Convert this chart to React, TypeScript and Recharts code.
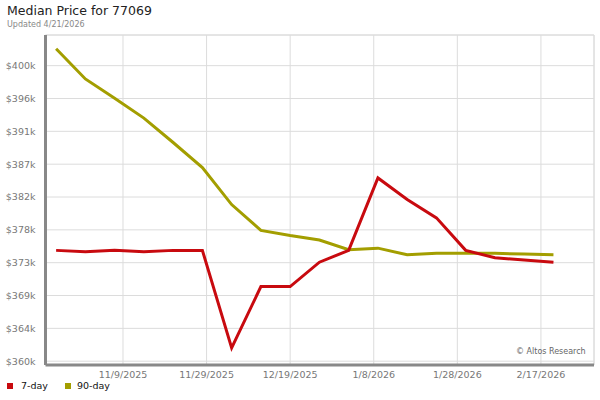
import { LineChart, Line, XAxis, YAxis, CartesianGrid, ReferenceLine } from 'recharts';

const pointDates = [
  '2025-10-24', '2025-10-31', '2025-11-07', '2025-11-14', '2025-11-21', '2025-11-28',
  '2025-12-05', '2025-12-12', '2025-12-19', '2025-12-26', '2026-01-02', '2026-01-09',
  '2026-01-16', '2026-01-23', '2026-01-30', '2026-02-06', '2026-02-13', '2026-02-20',
];

const sevenDay = [
  375000, 374800, 375000, 374800, 375000, 375000,
  361800, 370100, 370100, 373400, 375000, 384800,
  381900, 379400, 375000, 374000, 373700, 373400,
];

const ninetyDay = [
  402300, 398200, 395600, 392900, 389600, 386200,
  381200, 377700, 377000, 376400, 375100, 375300,
  374400, 374600, 374600, 374600, 374500, 374400,
];

const tickDates = ['2025-11-09', '2025-11-29', '2025-12-19', '2026-01-08', '2026-01-28', '2026-02-17'];
const tickLabels = ['11/9/2025', '11/29/2025', '12/19/2025', '1/8/2026', '1/28/2026', '2/17/2026'];

const yTicks = [360000, 364444, 368889, 373333, 377778, 382222, 386667, 391111, 395556, 400000];

const RED = '#c80a0f';
const OLIVE = '#a39e00';
const FONT = '"DejaVu Sans", Verdana, sans-serif';

// days since the first weekly point
const toDay = (s: string) => {
  const [y, m, d] = s.split('-').map(Number);
  return (Date.UTC(y, m - 1, d) - Date.UTC(2025, 9, 24)) / 86400000;
};

const data = pointDates.map((d, i) => ({
  day: toDay(d),
  seven: sevenDay[i],
  ninety: ninetyDay[i],
}));

const xTicks = tickDates.map(toDay);
const xMin = -2.54;
const xMax = 128.7;
const yMin = 359486;
const yMax = 404150;

export default function App() {
  return (
    <div style={{ position: 'absolute', left: 0, top: 0, width: 600, height: 400, background: '#fff', fontFamily: FONT }}>
      <div style={{ position: 'absolute', left: 7, top: 3, fontSize: 12.5, color: '#222', whiteSpace: 'nowrap' }}>
        Median Price for 77069
      </div>
      <div style={{ position: 'absolute', left: 7, top: 20, fontSize: 8, color: '#888', whiteSpace: 'nowrap' }}>
        Updated 4/21/2026
      </div>

      <LineChart width={600} height={400} data={data} margin={{ top: 35, right: 6, left: 0, bottom: 15 }}>
        <CartesianGrid stroke="#dcdcdc" strokeWidth={1} />
        <ReferenceLine y={yMax} stroke="#dcdcdc" />
        <ReferenceLine x={xMax} stroke="#dcdcdc" />
        <XAxis
          type="number"
          dataKey="day"
          domain={[xMin, xMax]}
          ticks={xTicks}
          allowDataOverflow
          tickFormatter={(v: number) => tickLabels[xTicks.indexOf(v)] ?? ''}
          height={20}
          axisLine={{ stroke: '#888', strokeWidth: 3 }}
          tickLine={false}
          tick={{ fill: '#777', fontSize: 9.5, fontFamily: FONT }}
          tickMargin={0}
        />
        <YAxis
          type="number"
          domain={[yMin, yMax]}
          ticks={yTicks}
          allowDataOverflow
          width={45.5}
          tickFormatter={(v: number) => `$${Math.round(v / 1000)}k`}
          axisLine={{ stroke: '#888', strokeWidth: 3 }}
          tickLine={false}
          tick={{ fill: '#777', fontSize: 9.5, fontFamily: FONT }}
          tickMargin={4}
        />
        <Line
          dataKey="ninety"
          stroke={OLIVE}
          strokeWidth={3}
          dot={false}
          isAnimationActive={false}
        />
        <Line
          dataKey="seven"
          stroke={RED}
          strokeWidth={3}
          dot={false}
          isAnimationActive={false}
        />
      </LineChart>

      <div style={{ position: 'absolute', left: 516, top: 347, fontSize: 8, color: '#666', whiteSpace: 'nowrap' }}>
        © Altos Research
      </div>

      {/* legend */}
      <div style={{ position: 'absolute', left: 7, top: 380, display: 'flex', alignItems: 'center', fontSize: 9.5, color: '#111' }}>
        <span style={{ width: 6, height: 6, background: RED, display: 'inline-block', marginRight: 8 }} />
        <span style={{ marginRight: 17 }}>7-day</span>
        <span style={{ width: 6, height: 6, background: OLIVE, display: 'inline-block', marginRight: 6 }} />
        <span>90-day</span>
      </div>
    </div>
  );
}
